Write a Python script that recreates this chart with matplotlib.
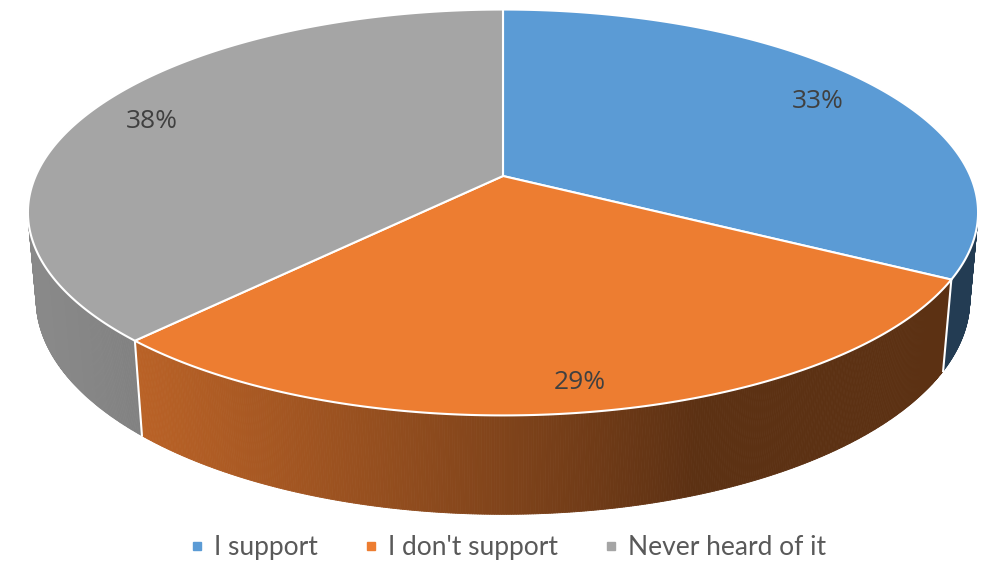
import numpy as np
import matplotlib.pyplot as plt
from matplotlib.collections import PolyCollection
from matplotlib.patches import Polygon
from matplotlib.lines import Line2D
from matplotlib.colors import to_rgb

labels = ['I support', "I don't support", 'Never heard of it']
shares = [33, 29, 38]
colors = ['#5B9BD5', '#ED7D31', '#A5A5A5']

# simple pinhole camera looking down on a unit-radius pie
tilt = np.radians(24.85)
dist = 5.05
focal = 2360.0
thick = 0.205
cx, cy = 503.0, 176.0
st, ct = np.sin(tilt), np.cos(tilt)


def project(a, r=1.0, z=0.0):
    # a is measured clockwise from 12 o'clock (far side), z is height (top face = 0)
    a = np.asarray(a, dtype=float)
    depth = dist - st * z + ct * r * np.cos(a)
    sx = focal * r * np.sin(a) / depth
    sy = focal * (ct * z + st * r * np.cos(a)) / depth
    return np.column_stack([np.atleast_1d(cx + sx), np.atleast_1d(cy - sy)])


def shade(a):
    # light coming from the left and a bit from the front
    lit = np.clip(-np.sin(a + np.radians(20)), 0, None)
    return 0.39 + 0.44 * lit


fig = plt.figure(figsize=(9.89, 5.63), dpi=100)
ax = fig.add_axes([0, 0, 1, 1])
ax.set_xlim(0, 989)
ax.set_ylim(563, 0)
ax.axis('off')

bounds = 2 * np.pi * np.concatenate([[0], np.cumsum(shares)]) / sum(shares)
# part of the rim that faces the camera
vis_lo = np.arccos(-1 / (dist * ct))
vis_hi = 2 * np.pi - vis_lo

# rim
for i, col in enumerate(colors):
    a0, a1 = max(bounds[i], vis_lo), min(bounds[i + 1], vis_hi)
    if a1 <= a0:
        continue
    n = max(int(np.degrees(a1 - a0) * 4), 2)
    aa = np.linspace(a0, a1, n + 1)
    top = project(aa)
    bot = project(aa, z=-thick)
    quads, fcs = [], []
    base = np.array(to_rgb(col))
    for k in range(n):
        quads.append([top[k], top[k + 1], bot[k + 1], bot[k]])
        fcs.append(np.clip(base * shade(0.5 * (aa[k] + aa[k + 1])), 0, 1))
    ax.add_collection(PolyCollection(quads, facecolors=fcs, edgecolors=fcs,
                                     linewidths=0.6, zorder=1))

# white seams where slices meet on the rim
for b in bounds[1:-1]:
    if vis_lo < b < vis_hi:
        seam = np.vstack([project(b), project(b, z=-thick)])
        ax.plot(seam[:, 0], seam[:, 1], color='white', lw=1.5, zorder=2)

# top faces
for i, col in enumerate(colors):
    aa = np.linspace(bounds[i], bounds[i + 1], 200)
    pts = np.vstack([project(0.0, r=0.0), project(aa)])
    ax.add_patch(Polygon(pts, closed=True, facecolor=col, edgecolor='white',
                         lw=1.5, joinstyle='round', zorder=3))

# percentage labels, pushed a little toward the front edge
for i, v in enumerate(shares):
    mid = 0.5 * (bounds[i] + bounds[i + 1])
    px, py = project(mid, r=0.85)[0]
    drop = 4 + 8 * max(0.0, -np.cos(mid))
    ax.text(px - 2 + 6 * max(0.0, -np.cos(mid)), py + drop, f'{v}%',
            ha='center', va='center', fontsize=19, color='#404040',
            family=['Open Sans', 'DejaVu Sans'], zorder=4)

handles = [Line2D([], [], marker='s', ls='', color=col, markersize=6) for col in colors]
fig.legend(handles, labels, loc='center', bbox_to_anchor=(0.512, 0.027), ncol=3,
           frameon=False, labelcolor='#595959', handletextpad=0.25,
           columnspacing=1.6, handlelength=0.8,
           prop={'family': ['Lato', 'DejaVu Sans'], 'size': 19})

fig.savefig('out.png', dpi=100)
